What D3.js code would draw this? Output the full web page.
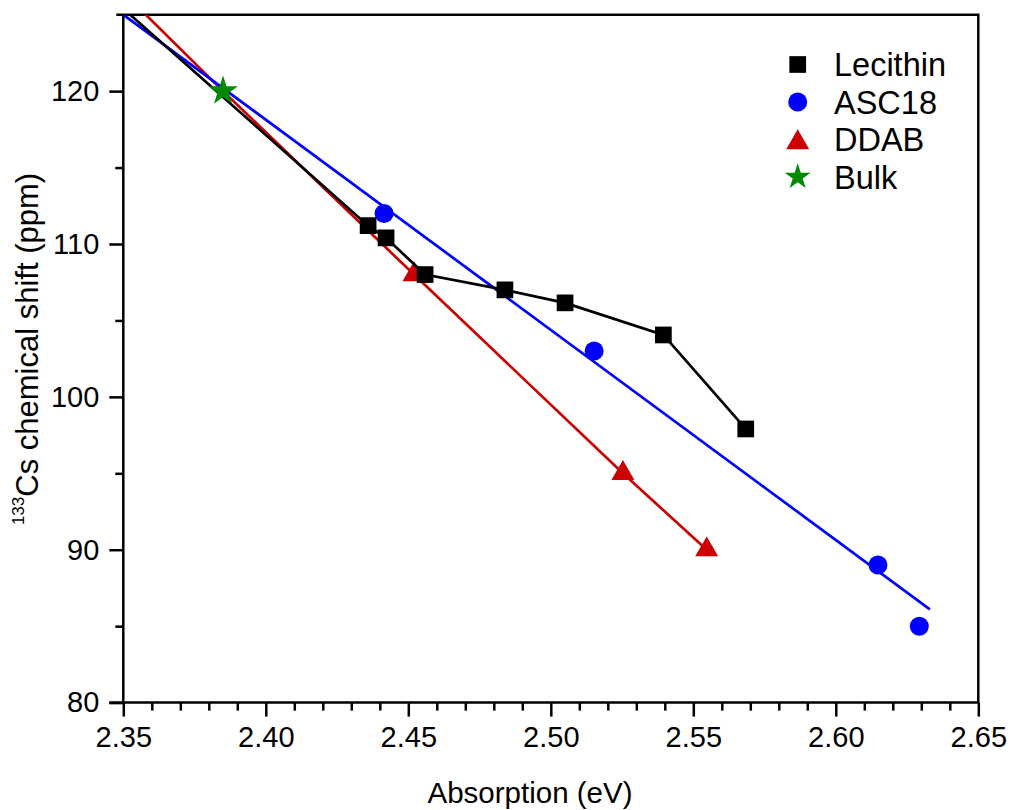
<!DOCTYPE html>
<html>
<head>
<meta charset="utf-8">
<script src="https://cdn.jsdelivr.net/npm/d3@7"></script>
<style>
  body { margin: 0; background: #fff; }
  text { font-family: "Liberation Sans", Arial, sans-serif; fill: #000; }
</style>
</head>
<body>
<svg id="chart" width="1011" height="810"></svg>
<script>
// data (eV, ppm)
const lecithin = [[2.4359, 111.2], [2.4422, 110.4], [2.4559, 108.0], [2.4839, 107.0], [2.505, 106.15], [2.5395, 104.05], [2.5684, 97.9]];
const lecithinLine = [[2.33, 128.7]].concat(lecithin);
const asc18 = [[2.4415, 112.0], [2.5152, 103.0], [2.6148, 89.0], [2.6293, 85.0]];
const asc18Fit = [[2.33, 127.75], [2.633, 86.1]];
const ddab = [[2.452, 108.0], [2.5253, 95.0], [2.5547, 90.0]];
const ddabLine = [[2.34, 128.3], [2.385, 120.0]].concat(ddab);
const bulk = [[2.385, 120.0]];

const xMajor = [2.35, 2.40, 2.45, 2.50, 2.55, 2.60, 2.65];
const yMajor = [80, 90, 100, 110, 120];
const legendNames = ["Lecithin", "ASC18", "DDAB", "Bulk"];

const pLeft = 123.3, pRight = 978.3, pTop = 14.7, pBottom = 702.6;

const svg = d3.select("#chart");
const x = d3.scaleLinear().domain([2.35, 2.65]).range([pLeft, pRight]);
const y = d3.scaleLinear().domain([80, 125]).range([pBottom, pTop]);

const xMinor = d3.range(0, 31).map(i => 2.35 + i * 0.01).filter(v => !xMajor.some(m => Math.abs(m - v) < 1e-6));
const yMinor = [85, 95, 105, 115];

function styleAxis(g) {
  g.select(".domain").remove();
  g.selectAll("line").attr("stroke", "#000").attr("stroke-width", 2.5);
  g.selectAll("text").attr("font-size", 29).style("font-family", '"Liberation Sans", Arial, sans-serif').attr("fill", "#000");
}

// minor ticks
svg.append("g").attr("transform", `translate(0,${pBottom})`)
  .call(d3.axisBottom(x).tickValues(xMinor).tickSize(8).tickFormat(""))
  .call(styleAxis);
svg.append("g").attr("transform", `translate(${pLeft},0)`)
  .call(d3.axisLeft(y).tickValues(yMinor).tickSize(8).tickFormat(""))
  .call(styleAxis);

// major ticks
svg.append("g").attr("transform", `translate(0,${pBottom})`)
  .call(d3.axisBottom(x).tickValues(xMajor).tickSize(14).tickPadding(10).tickFormat(d3.format(".2f")))
  .call(styleAxis);
svg.append("g").attr("transform", `translate(${pLeft},0)`)
  .call(d3.axisLeft(y).tickValues(yMajor).tickSize(14).tickPadding(10).tickFormat(d3.format("d")))
  .call(styleAxis);

// frame
svg.append("path")
  .attr("d", `M${pLeft - 7},${pTop} H${pRight} V${pBottom} H${pLeft - 14} M${pLeft},${pBottom} V${pTop}`)
  .attr("fill", "none").attr("stroke", "#000").attr("stroke-width", 2.5);

svg.append("clipPath").attr("id", "plotclip")
  .append("rect").attr("x", pLeft).attr("y", pTop).attr("width", pRight - pLeft).attr("height", pBottom - pTop);

const plot = svg.append("g").attr("clip-path", "url(#plotclip)");
const line = d3.line().x(d => x(d[0])).y(d => y(d[1]));

function drawSeries(lineData, pts, color, symbol, size) {
  plot.append("path").datum(lineData)
    .attr("d", line).attr("fill", "none").attr("stroke", color).attr("stroke-width", 2.7);
  plot.selectAll(null).data(pts).enter().append("path")
    .attr("transform", d => `translate(${x(d[0])},${y(d[1])})`)
    .attr("d", d3.symbol().type(symbol).size(size))
    .attr("fill", color);
}

const colors = ["#000000", "#0000ff", "#cc0000", "#008a00"];
const symbols = [d3.symbolSquare, d3.symbolCircle, d3.symbolTriangle, d3.symbolStar];
const sizes = [279, 283, 229, 210];

drawSeries(ddabLine, ddab, colors[2], symbols[2], sizes[2]);
drawSeries(asc18Fit, asc18, colors[1], symbols[1], sizes[1]);
drawSeries(lecithinLine, lecithin, colors[0], symbols[0], sizes[0]);
plot.selectAll(null).data(bulk).enter().append("path")
  .attr("transform", d => `translate(${x(d[0])},${y(d[1])})`)
  .attr("d", d3.symbol().type(symbols[3]).size(270))
  .attr("fill", colors[3]);

// legend
const legend = svg.append("g");
legendNames.forEach((name, i) => {
  let ly = 64.5 + i * 37.5;
  let sy = symbols[i] === d3.symbolTriangle ? ly + 3 : ly;
  legend.append("path")
    .attr("transform", `translate(797.7,${sy})`)
    .attr("d", d3.symbol().type(symbols[i]).size(sizes[i]))
    .attr("fill", colors[i]);
  legend.append("text")
    .attr("x", 834).attr("y", ly + 11.5)
    .attr("font-size", 32.5)
    .text(name);
});

// axis titles
svg.append("text")
  .attr("x", 530).attr("y", 803)
  .attr("text-anchor", "middle").attr("font-size", 29.5)
  .text("Absorption (eV)");

const ylab = svg.append("text")
  .attr("transform", "translate(38,349) rotate(-90)")
  .attr("text-anchor", "middle");
ylab.append("tspan").attr("font-size", 17).attr("dy", -14).text("133");
ylab.append("tspan").attr("font-size", 31).attr("dy", 14).text("Cs chemical shift (ppm)");
</script>
</body>
</html>
